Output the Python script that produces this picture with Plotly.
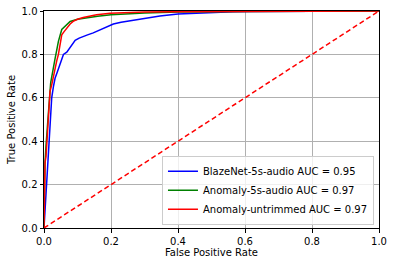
import plotly.graph_objects as go

# BlazeNet-5s-audio
fpr_blaze = [0, 0.002, 0.004, 0.006, 0.01, 0.013, 0.016, 0.02, 0.023, 0.028, 0.033, 0.04, 0.048, 0.058,
             0.068, 0.073, 0.083, 0.093, 0.105, 0.117, 0.13, 0.147, 0.167, 0.177, 0.197, 0.207, 0.23,
             0.267, 0.3, 0.346, 0.4, 0.466, 0.52, 0.564, 0.62, 0.7, 0.8, 1.0]
tpr_blaze = [0, 0.05, 0.1, 0.13, 0.25, 0.31, 0.4, 0.53, 0.6, 0.65, 0.69, 0.72, 0.76, 0.8,
             0.81, 0.822, 0.845, 0.865, 0.875, 0.883, 0.89, 0.899, 0.912, 0.918, 0.93, 0.94, 0.948,
             0.958, 0.966, 0.977, 0.986, 0.991, 0.994, 0.997, 0.998, 0.999, 1.0, 1.0]

# Anomaly-5s-audio
fpr_anom = [0, 0.001, 0.003, 0.006, 0.01, 0.013, 0.018, 0.02, 0.025, 0.03, 0.033, 0.038, 0.043,
            0.053, 0.065, 0.078, 0.1, 0.13, 0.16, 0.2, 0.25, 0.3, 0.4, 0.5, 0.6, 0.8, 1.0]
tpr_anom = [0, 0.15, 0.3, 0.38, 0.48, 0.55, 0.63, 0.67, 0.72, 0.76, 0.78, 0.82, 0.86,
            0.915, 0.935, 0.952, 0.962, 0.97, 0.976, 0.983, 0.988, 0.991, 0.995, 0.997, 0.998, 0.999, 1.0]

# Anomaly-untrimmed
fpr_untr = [0, 0.001, 0.003, 0.006, 0.008, 0.013, 0.018, 0.023, 0.028, 0.033, 0.038, 0.043, 0.048,
            0.053, 0.06, 0.068, 0.078, 0.087, 0.1, 0.117, 0.137, 0.157, 0.197, 0.25, 0.3, 0.4, 0.5,
            0.6, 0.8, 1.0]
tpr_untr = [0, 0.15, 0.3, 0.33, 0.38, 0.53, 0.63, 0.66, 0.7, 0.73, 0.77, 0.8, 0.845,
            0.89, 0.905, 0.922, 0.94, 0.952, 0.962, 0.97, 0.978, 0.983, 0.99, 0.993, 0.995, 0.997, 0.998,
            0.999, 1.0, 1.0]

names = ["BlazeNet-5s-audio AUC = 0.95", "Anomaly-5s-audio AUC = 0.97", "Anomaly-untrimmed AUC = 0.97"]
diag = [0, 1]
tick_vals = [0.0, 0.2, 0.4, 0.6, 0.8, 1.0]
tick_text = ["0.0", "0.2", "0.4", "0.6", "0.8", "1.0"]

fig = go.Figure()
for fx, fy, nm, col in [(fpr_blaze, tpr_blaze, names[0], "blue"),
                        (fpr_anom, tpr_anom, names[1], "green"),
                        (fpr_untr, tpr_untr, names[2], "red")]:
    fig.add_trace(go.Scatter(x=fx, y=fy, mode="lines", name=nm,
                             line=dict(color=col, width=1.5)))
fig.add_trace(go.Scatter(x=diag, y=diag, mode="lines", showlegend=False,
                         line=dict(color="red", width=1.5, dash="5px,3px")))

axis_common = dict(range=[0, 1], tickmode="array", tickvals=tick_vals, ticktext=tick_text,
                   showgrid=True, gridcolor="#b0b0b0", gridwidth=0.8,
                   showline=True, linecolor="black", linewidth=1, mirror=True,
                   ticks="outside", ticklen=3.5, tickcolor="black", automargin=False,
                   zeroline=False, tickfont=dict(size=10, color="black"))

fig.update_layout(
    template="none",
    width=394, height=266,
    margin=dict(l=44, r=15, t=11, b=38, autoexpand=False),
    paper_bgcolor="white", plot_bgcolor="white",
    font=dict(family="DejaVu Sans", size=10, color="black"),
    xaxis=dict(title=dict(text="False Positive Rate", font=dict(size=10), standoff=3), **axis_common),
    yaxis=dict(title=dict(text="True Positive Rate", font=dict(size=10), standoff=4), **axis_common),
    legend=dict(x=0.985, y=0.015, xanchor="right", yanchor="bottom",
                bgcolor="rgba(255,255,255,0.8)", bordercolor="#cccccc", borderwidth=1,
                font=dict(size=10), tracegroupgap=0, itemwidth=30),
    showlegend=True,
)

fig.write_html("out.html", config={"displayModeBar": False},
               post_script="document.body.style.margin='0';document.body.style.padding='0';")
